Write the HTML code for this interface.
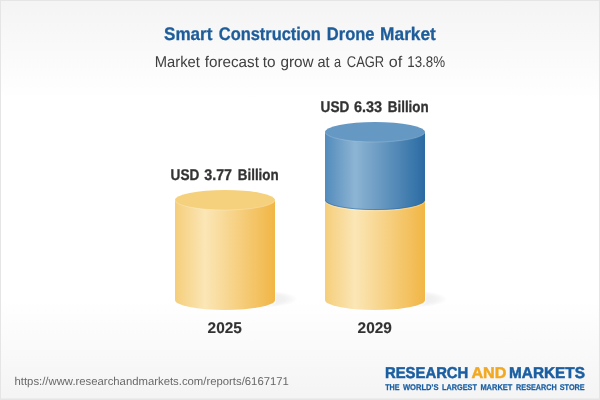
<!DOCTYPE html>
<html><head><meta charset="utf-8"><title>Smart Construction Drone Market</title>
<style>
html,body{margin:0;padding:0;width:600px;height:400px;overflow:hidden;background:#fff}
svg{display:block}
text{font-family:"Liberation Sans",sans-serif;text-rendering:geometricPrecision}
.b{font-weight:bold}
</style></head><body>
<svg width="600" height="400" viewBox="0 0 600 400">
<defs>
<linearGradient id="bg" x1="0" y1="0" x2="0" y2="1">
<stop offset="0" stop-color="#f4f4f4"/><stop offset="0.25" stop-color="#ffffff"/><stop offset="0.75" stop-color="#ffffff"/><stop offset="1" stop-color="#f4f4f4"/>
</linearGradient>
<linearGradient id="gy" x1="0" y1="0" x2="1" y2="0">
<stop offset="0" stop-color="#f5ce7b"/><stop offset="0.3" stop-color="#fbe6b6"/><stop offset="1" stop-color="#f1b645"/>
</linearGradient>
<linearGradient id="gb" x1="0" y1="0" x2="1" y2="0">
<stop offset="0" stop-color="#528bbc"/><stop offset="0.3" stop-color="#8db4d3"/><stop offset="1" stop-color="#2a6ba3"/>
</linearGradient>
<radialGradient id="sh" cx="0.5" cy="0.5" r="0.5">
<stop offset="0" stop-color="#223" stop-opacity="0.095"/><stop offset="0.65" stop-color="#223" stop-opacity="0.06"/><stop offset="1" stop-color="#000" stop-opacity="0"/>
</radialGradient>
<clipPath id="c2"><rect x="325" y="100" width="100" height="220"/></clipPath>
</defs>
<rect x="0" y="0" width="600" height="400" fill="#e5e5e5"/>
<rect x="1" y="1" width="598" height="397.5" fill="url(#bg)"/>

<!-- shadows -->
<ellipse cx="262.5" cy="299" rx="35" ry="8.5" fill="url(#sh)"/>
<path d="M175 300.7 A50 10 0 0 0 275.6 300.7 L275.6 290" fill="none" stroke="#fff" stroke-opacity="0.65" stroke-width="1.1"/>
<ellipse cx="412.5" cy="299" rx="35" ry="8.5" fill="url(#sh)"/>
<path d="M325 300.7 A50 10 0 0 0 425.6 300.7 L425.6 290" fill="none" stroke="#fff" stroke-opacity="0.65" stroke-width="1.1"/>

<!-- left cylinder -->
<path d="M175 200 L175 300 A50 10 0 0 0 275 300 L275 200 Z" fill="url(#gy)"/>
<ellipse cx="225" cy="200" rx="50" ry="10" fill="#f5d07d"/>
<path d="M175 200 A50 10 0 0 0 275 200" fill="none" stroke="#fff" stroke-opacity="0.3" stroke-width="0.8"/>

<!-- right cylinder -->
<path d="M325 200 L325 300 A50 10 0 0 0 425 300 L425 200 Z" fill="url(#gy)"/>
<path d="M325 132 L325 200 A50 10 0 0 0 425 200 L425 132 Z" fill="url(#gb)"/>
<path clip-path="url(#c2)" d="M325 199.6 A50 10 0 0 0 425 199.6" fill="none" stroke="#2f6ca6" stroke-opacity="0.55" stroke-width="1"/>
<path clip-path="url(#c2)" d="M325 200.8 A50 10 0 0 0 425 200.8" fill="none" stroke="#fff" stroke-opacity="0.3" stroke-width="0.9"/>
<ellipse cx="375" cy="132" rx="50" ry="10" fill="#6598c3"/>
<path d="M325 132 A50 10 0 0 0 425 132" fill="none" stroke="#fff" stroke-opacity="0.22" stroke-width="0.8"/>

<text id="title" class="b" x="300" y="39.5" font-size="18.2" fill="#1e5d9a" stroke="#1e5d9a" stroke-width="0.3"><tspan x="164.00" textLength="48.40" lengthAdjust="spacingAndGlyphs">Smart</tspan> <tspan x="218.80" textLength="102.10" lengthAdjust="spacingAndGlyphs">Construction</tspan> <tspan x="326.80" textLength="47.70" lengthAdjust="spacingAndGlyphs">Drone</tspan> <tspan x="380.10" textLength="55.80" lengthAdjust="spacingAndGlyphs">Market</tspan></text>
<text id="sub" x="300" y="66.8" font-size="15.5" fill="#404040"><tspan x="154.80" textLength="45.10" lengthAdjust="spacingAndGlyphs">Market</tspan> <tspan x="204.80" textLength="54.10" lengthAdjust="spacingAndGlyphs">forecast</tspan> <tspan x="262.80" textLength="12.80" lengthAdjust="spacingAndGlyphs">to</tspan> <tspan x="280.40" textLength="33.20" lengthAdjust="spacingAndGlyphs">grow</tspan> <tspan x="317.50" textLength="12.10" lengthAdjust="spacingAndGlyphs">at</tspan> <tspan x="334.10" textLength="7.10" lengthAdjust="spacingAndGlyphs">a</tspan> <tspan x="346.80" textLength="37.40" lengthAdjust="spacingAndGlyphs">CAGR</tspan> <tspan x="388.80" textLength="13.40" lengthAdjust="spacingAndGlyphs">of</tspan> <tspan x="407.30" textLength="37.80" lengthAdjust="spacingAndGlyphs">13.8%</tspan></text>
<text id="l1" class="b" x="224.8" y="179.5" font-size="15.5" fill="#333" stroke="#333" stroke-width="0.3"><tspan x="170.60" textLength="28.70" lengthAdjust="spacingAndGlyphs">USD</tspan> <tspan x="204.20" textLength="27.90" lengthAdjust="spacingAndGlyphs">3.77</tspan> <tspan x="237.80" textLength="40.90" lengthAdjust="spacingAndGlyphs">Billion</tspan></text>
<text id="l2" class="b" x="374.8" y="111.7" font-size="15.5" fill="#333" stroke="#333" stroke-width="0.3"><tspan x="320.60" textLength="28.70" lengthAdjust="spacingAndGlyphs">USD</tspan> <tspan x="354.00" textLength="28.10" lengthAdjust="spacingAndGlyphs">6.33</tspan> <tspan x="387.80" textLength="40.90" lengthAdjust="spacingAndGlyphs">Billion</tspan></text>
<text id="y1" class="b" x="224.75" y="332.7" font-size="15.5" fill="#333" stroke="#333" stroke-width="0.12" text-anchor="middle" textLength="34.3" lengthAdjust="spacingAndGlyphs">2025</text>
<text id="y2" class="b" x="374.75" y="332.7" font-size="15.5" fill="#333" stroke="#333" stroke-width="0.12" text-anchor="middle" textLength="34.3" lengthAdjust="spacingAndGlyphs">2029</text>
<text id="url" x="14.5" y="385" font-size="11.3" fill="#686868" textLength="274.4" lengthAdjust="spacingAndGlyphs">https://www.researchandmarkets.com/reports/6167171</text>
<text id="lg1" class="b" x="385" y="377.7" font-size="15.7" fill="#1b5fa2" stroke="#1b5fa2" stroke-width="0.5" textLength="83.3" lengthAdjust="spacingAndGlyphs">RESEARCH</text>
<text id="lg2" class="b" x="471.4" y="377.7" font-size="15.7" fill="#f2a922" stroke="#f2a922" stroke-width="0.5" textLength="35" lengthAdjust="spacingAndGlyphs">AND</text>
<text id="lg3" class="b" x="509" y="377.7" font-size="15.7" fill="#1b5fa2" stroke="#1b5fa2" stroke-width="0.5" textLength="76" lengthAdjust="spacingAndGlyphs">MARKETS</text>
<text id="lg4" class="b" y="389.7" font-size="8.3" fill="#1b5fa2" stroke="#1b5fa2" stroke-width="0.25"><tspan x="385.20" textLength="14.40" lengthAdjust="spacingAndGlyphs">THE</tspan> <tspan x="402.90" textLength="35.60" lengthAdjust="spacingAndGlyphs">WORLD'S</tspan> <tspan x="442.10" textLength="34.80" lengthAdjust="spacingAndGlyphs">LARGEST</tspan> <tspan x="480.40" textLength="32.00" lengthAdjust="spacingAndGlyphs">MARKET</tspan> <tspan x="516.10" textLength="40.60" lengthAdjust="spacingAndGlyphs">RESEARCH</tspan> <tspan x="559.70" textLength="25.00" lengthAdjust="spacingAndGlyphs">STORE</tspan></text>
</svg>
</body></html>
